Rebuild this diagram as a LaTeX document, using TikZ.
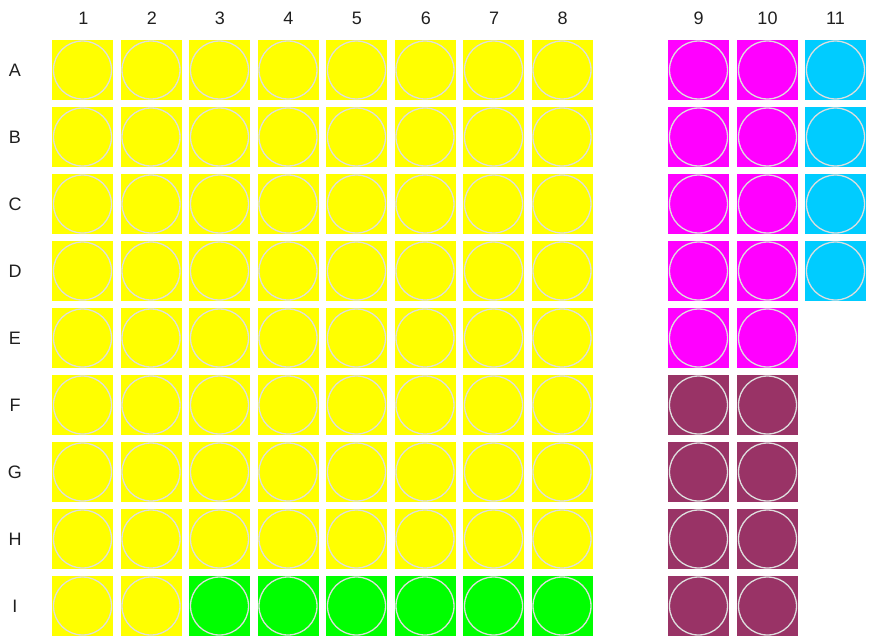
\documentclass[tikz,border=0pt]{standalone}
\usepackage{fontspec}
\setmainfont{Liberation Sans}
\begin{document}
\begin{tikzpicture}[x=1pt,y=-1pt,
  well/.style={rectangle,minimum width=61pt,minimum height=60.5pt,inner sep=0pt,draw=none},
  ring/.style={draw=black!13,line width=1.3pt},
  lbl/.style={font=\fontsize{18}{21}\selectfont,text=black!88,inner sep=0pt}]
\useasboundingbox (0,0) rectangle (870,642);
\definecolor{wyel}{HTML}{FFFF00}
\definecolor{wmag}{HTML}{FF00FF}
\definecolor{wcya}{HTML}{00CCFF}
\definecolor{wmar}{HTML}{993366}
\definecolor{wgrn}{HTML}{00FF00}
% column labels
\foreach \c/\x in {1/83.5,2/152,3/220,4/288.5,5/357,6/426,7/494,8/562.5,9/698.5,10/767.5,11/835.5}
  \node[lbl] (col-\c) at (\x,18.5) {\c};
% row labels
\foreach \r/\y in {A/70,B/137,C/204,D/271,E/338,F/405,G/472,H/539,I/606}
  \node[lbl] (row-\r) at (15,\y) {\r};
% yellow block cols 1-8 rows A-H
\foreach \r/\y in {A/70,B/137,C/204,D/271,E/338,F/405,G/472,H/539}{
  \foreach \c/\x in {1/82.5,2/151,3/219.5,4/288,5/356.5,6/425,7/493.5,8/562}{
    \node[well,fill=wyel] (w-\r-\c) at (\x,\y) {};
    \draw[ring] (w-\r-\c.center) circle (29);
  }
}
% row I
\foreach \c/\x/\col in {1/82.5/wyel,2/151/wyel,3/219.5/wgrn,4/288/wgrn,5/356.5/wgrn,6/425/wgrn,7/493.5/wgrn,8/562/wgrn}{
  \node[well,fill=\col] (w-I-\c) at (\x,606) {};
  \draw[ring] (w-I-\c.center) circle (29);
}
% columns 9 and 10
\foreach \r/\y/\col in {A/70/wmag,B/137/wmag,C/204/wmag,D/271/wmag,E/338/wmag,F/405/wmar,G/472/wmar,H/539/wmar,I/606/wmar}{
  \foreach \c/\x in {9/698.5,10/767.5}{
    \node[well,fill=\col] (w-\r-\c) at (\x,\y) {};
    \draw[ring] (w-\r-\c.center) circle (29);
  }
}
% column 11
\foreach \r/\y in {A/70,B/137,C/204,D/271}{
  \node[well,fill=wcya] (w-\r-11) at (835.5,\y) {};
  \draw[ring] (w-\r-11.center) circle (29);
}
\end{tikzpicture}
\end{document}
